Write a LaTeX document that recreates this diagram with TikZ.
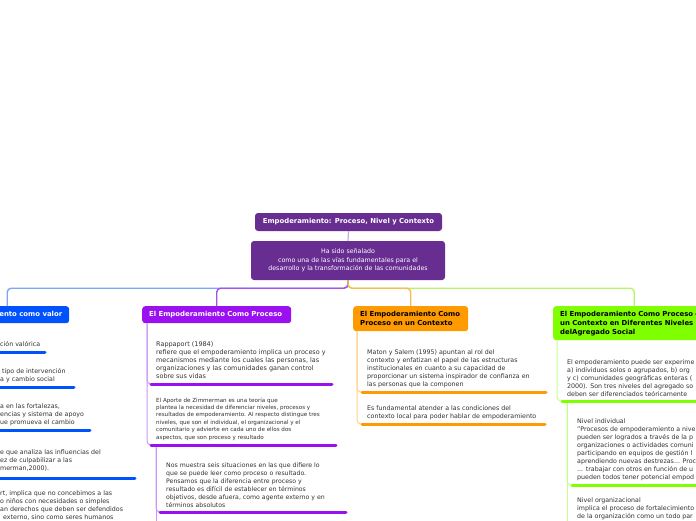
\documentclass[tikz,border=0pt]{standalone}
\usepackage{fontspec}
\setmainfont{DejaVu Sans}
\definecolor{dkpurple}{RGB}{104,45,145}
\definecolor{bluebox}{RGB}{0,82,255}
\definecolor{purplebox}{RGB}{155,16,240}
\definecolor{orangebox}{RGB}{255,154,0}
\definecolor{greenbox}{RGB}{128,255,0}
\definecolor{txtgray}{RGB}{50,50,50}
\definecolor{bluel}{RGB}{122,167,247}
\definecolor{purl}{RGB}{165,80,240}
\definecolor{orl}{RGB}{245,190,80}
\definecolor{grl}{RGB}{182,245,106}
\definecolor{toplink}{RGB}{201,168,227}
\definecolor{purthin}{RGB}{205,150,245}
\definecolor{orthin}{RGB}{255,210,140}
\definecolor{grthin}{RGB}{195,255,140}
\newcommand\blkl[3]{\fontsize{#1}{#2}\selectfont\begin{tabular}[t]{@{}l@{}}#3\end{tabular}}
\newcommand\blkc[3]{\fontsize{#1}{#2}\selectfont\begin{tabular}{@{}c@{}}#3\end{tabular}}
\tikzset{
  topbox/.style={fill=dkpurple, rounded corners=3pt, text=white, inner sep=0pt},
  lonebox/.style={rounded corners=3pt, inner xsep=7pt, inner ysep=0pt, align=left, font=\fontsize{6.9}{9}\selectfont\bfseries},
  txt/.style={anchor=base west, inner sep=0pt, text=txtgray},
  conn/.style={line width=1.4pt, rounded corners=4pt},
  thin/.style={line width=1pt, rounded corners=4pt},
  bar/.style={line width=3pt, line cap=round}
}
\begin{document}
\begin{tikzpicture}[x=1pt,y=-1pt]
\clip (0,0) rectangle (696,520);
\fill[white] (0,0) rectangle (696,520);

% title and root
\node[topbox, minimum width=187pt, minimum height=18pt] (title) at (348.5,222)
  {\fontsize{6.85}{8}\selectfont\bfseries Empoderamiento: Proceso, Nivel y Contexto};
\node[topbox, minimum width=194pt, minimum height=39pt] (root) at (348,260.5)
  {\blkc{6.3}{8.5}{Ha sido señalado\\como una de las vías fundamentales para el\\desarrollo y la transformación de las comunidades}};
\draw[line width=1.2pt, toplink] (title.south) -- (root.north);

% level 1 boxes
\node[lonebox, fill=bluebox, text=white, anchor=north west, minimum width=124pt, minimum height=17pt, inner xsep=0pt] (blue) at (-55,306) {\makebox[110pt][r]{Empoderamiento como valor}};
\node[lonebox, fill=purplebox, text=white, anchor=north west, text width=135pt, minimum height=17pt] (proc) at (142,306) {El Empoderamiento Como Proceso};
\node[lonebox, fill=orangebox, text=black, anchor=north west, text width=101pt, minimum height=25pt] (ora) at (353,306) {El Empoderamiento Como\\Proceso en un Contexto};
\node[lonebox, fill=greenbox, text=black, anchor=north west, text width=148pt, minimum height=34pt] (gre) at (553,306) {El Empoderamiento Como Proceso en\\un Contexto en Diferentes Niveles\\delAgregado Social};

% main connectors
\draw[conn, bluel] (root.south) -- ++(0,8) -| (blue.north);
\draw[conn, grl] (root.south) -- ++(0,8) -| (gre.north);
\draw[conn, purl] (root.south) -- ++(0,8) -| (proc.north);
\draw[conn, orl] (root.south) -- ++(0,8) -| (ora.north);

% ---------- blue column ----------
\coordinate (bb1a) at (-5,352); \coordinate (bb1b) at (45,352);
\coordinate (bb2a) at (-5,387); \coordinate (bb2b) at (74,387);
\coordinate (bb3a) at (-5,430); \coordinate (bb3b) at (90,430);
\coordinate (bb4a) at (-5,478); \coordinate (bb4b) at (135,478);
\foreach \i in {1,2,3,4} {\draw[bar, bluebox] (bb\i a) -- (bb\i b);}
\node[txt] (bt1) at (0,346) {\blkl{6.3}{8}{ción valórica}};
\node[txt] (bt2) at (0,373) {\blkl{6.3}{8}{\hspace{2pt}tipo de intervención\\a y cambio social}};
\node[txt] (bt3) at (0,408) {\blkl{6.3}{8}{a en las fortalezas,\\encias y sistema de apoyo\\ue promueva el cambio}};
\node[txt] (bt4) at (0,454) {\blkl{6.3}{8}{e que analiza las influencias del\\ez de culpabilizar a las\\merman,2000).}};
\node[txt] (bt5) at (0,495) {\blkl{6.3}{8}{rt, implica que no concebimos a las\\o niños con necesidades o simples\\an derechos que deben ser defendidos\\\hspace{3pt}externo, sino como seres humanos}};

% ---------- purple column ----------
\coordinate (pb1a) at (151,384); \coordinate (pb1b) at (332,384);
\coordinate (pb2a) at (151,445); \coordinate (pb2b) at (336,445);
\coordinate (pb3a) at (160,512); \coordinate (pb3b) at (346,512);
\draw[thin, purthin] ([xshift=5pt]proc.south west) |- (pb2a);
\draw[thin, purthin] ([xshift=5pt]proc.south west) |- (pb1a);
\draw[thin, purthin] ([xshift=5pt,yshift=-1pt]pb2a) -- ++(0,80);
\draw[thin, purthin] ([xshift=5pt,yshift=-1pt]pb2a) |- (pb3a);
\foreach \i in {1,2,3} {\draw[bar, purplebox] (pb\i a) -- (pb\i b);}
\node[txt] (pt1) at (156,346) {\blkl{6.45}{8.2}{Rappaport (1984)\\refiere que el empoderamiento implica un proceso y\\mecanismos mediante los cuales las personas, las\\organizaciones y las comunidades ganan control\\sobre sus vidas}};
\node[txt] (pt2) at (156,402) {\blkl{5.6}{7.4}{El Aporte de Zimmerman es una teoría que\\plantea la necesidad de diferenciar niveles, procesos y\\resultados de empoderamiento. Al respecto distingue tres\\niveles, que son el individual, el organizacional y el\\comunitario y advierte en cada uno de ellos dos\\aspectos, que son proceso y resultado}};
\node[txt] (pt3) at (166,467) {\blkl{6.2}{8}{Nos muestra seis situaciones en las que difiere lo\\que se puede leer como proceso o resultado.\\Pensamos que la diferencia entre proceso y\\resultado es difícil de establecer en términos\\objetivos, desde afuera, como agente externo y en\\términos absolutos}};

% ---------- orange column ----------
\coordinate (ob1a) at (362,392); \coordinate (ob1b) at (546,392);
\coordinate (ob2a) at (362,424); \coordinate (ob2b) at (545,424);
\draw[thin, orthin] ([xshift=4pt]ora.south west) |- (ob2a);
\draw[thin, orthin] ([xshift=4pt]ora.south west) |- (ob1a);
\foreach \i in {1,2} {\draw[bar, orangebox] (ob\i a) -- (ob\i b);}
\node[txt] (ot1) at (367,354) {\blkl{6.3}{8}{Maton y Salem (1995) apuntan al rol del\\contexto y enfatizan el papel de las estructuras\\institucionales en cuanto a su capacidad de\\proporcionar un sistema inspirador de confianza en\\las personas que la componen}};
\node[txt] (ot2) at (367,410) {\blkl{6.3}{8}{Es fundamental atender a las condiciones del\\contexto local para poder hablar de empoderamiento}};

% ---------- green column ----------
\coordinate (gb1a) at (562,401); \coordinate (gb1b) at (705,401);
\coordinate (gb2a) at (572,485); \coordinate (gb2b) at (705,485);
\draw[thin, grthin] ([xshift=4pt]gre.south west) |- (gb1a);
\draw[thin, grthin] ([xshift=5pt,yshift=-1pt]gb1a) -- ++(0,125);
\draw[thin, grthin] ([xshift=5pt,yshift=-1pt]gb1a) |- (gb2a);
\foreach \i in {1,2} {\draw[bar, greenbox] (gb\i a) -- (gb\i b);}
\node[txt] (gt1) at (567,364) {\blkl{6.3}{8}{El empoderamiento puede ser experime\\a) individuos solos o agrupados, b) org\\y c) comunidades geográficas enteras (\\2000). Son tres niveles del agregado so\\deben ser diferenciados teóricamente}};
\node[txt] (gt2) at (577,423) {\blkl{6.3}{8}{Nivel individual\\"Procesos de empoderamiento a nive\\pueden ser logrados a través de la p\\organizaciones o actividades comuni\\participando en equipos de gestión l\\aprendiendo nuevas destrezas... Proc\\... trabajar con otros en función de u\\pueden todos tener potencial empod}};
\node[txt] (gt3) at (577,502) {\blkl{6.3}{8}{Nivel organizacional\\implica el proceso de fortalecimiento\\de la organización como un todo par}};
\end{tikzpicture}
\end{document}
